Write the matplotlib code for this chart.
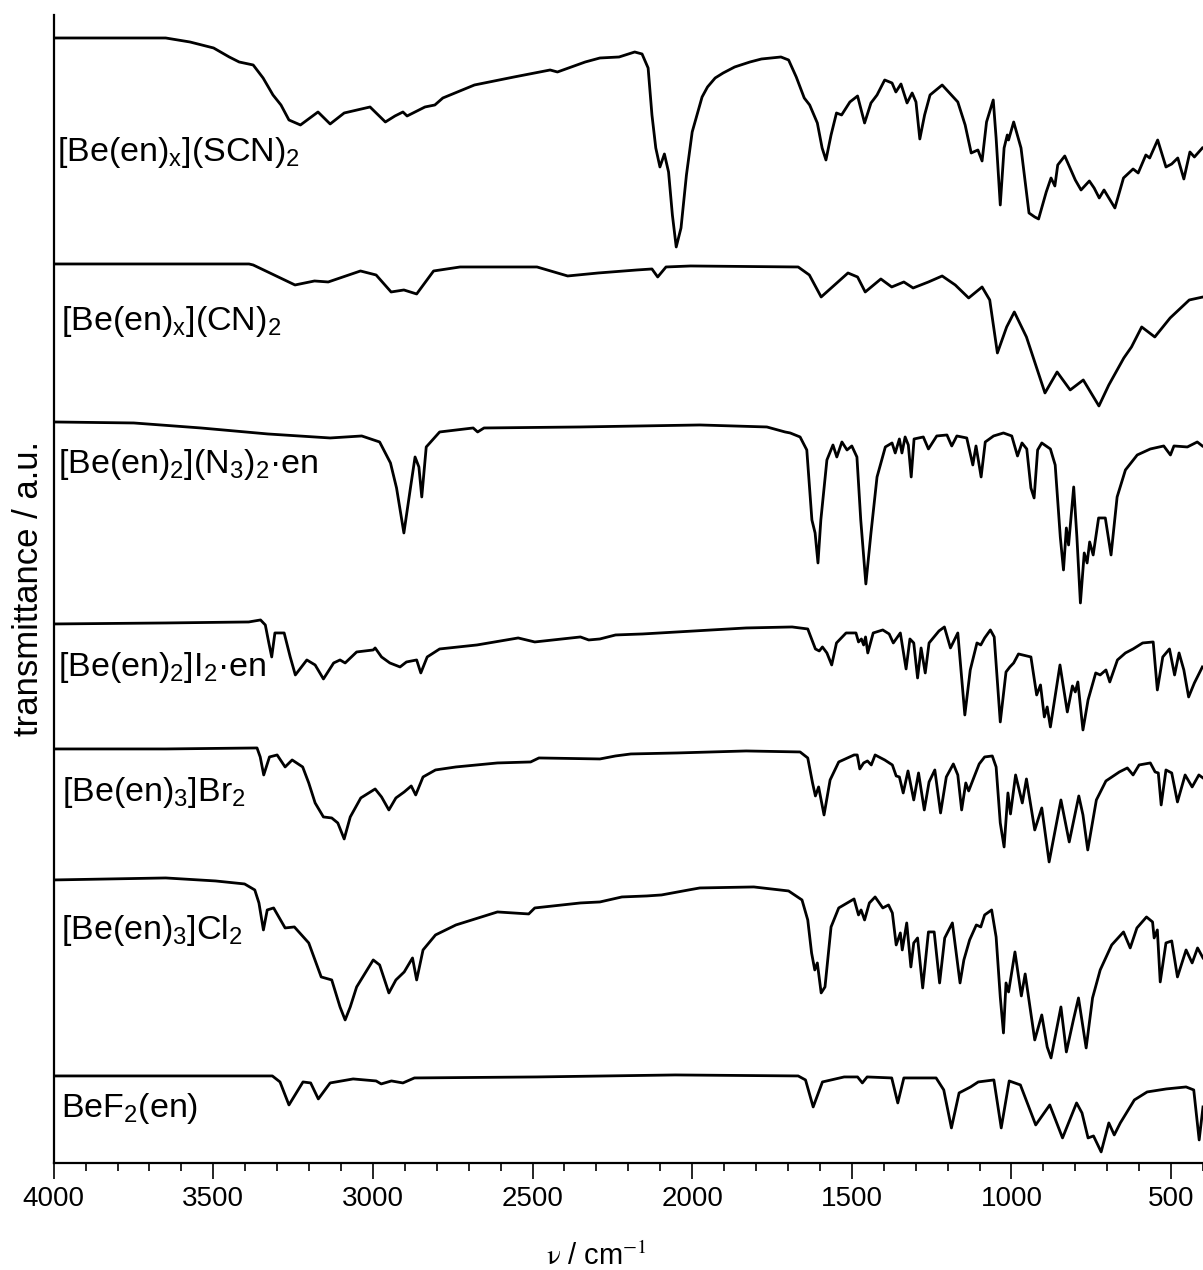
import matplotlib.pyplot as plt
from matplotlib.ticker import MultipleLocator

plt.rcParams['font.family'] = ['Liberation Sans', 'DejaVu Sans']
plt.rcParams['mathtext.fontset'] = 'custom'
plt.rcParams['mathtext.rm'] = 'Liberation Sans'
plt.rcParams['mathtext.it'] = 'Liberation Sans:italic'
plt.rcParams['mathtext.bf'] = 'Liberation Sans:bold'

# espectros IR: (numero de onda / cm-1, transmitancia a.u., ya desplazada)
scn = [(4000, 11.25), (3649, 11.25), (3573, 11.21), (3499, 11.15), (3450, 11.06), (3419, 11.01),
       (3375, 10.98), (3344, 10.85), (3313, 10.68), (3288, 10.58), (3263, 10.43), (3227, 10.38),
       (3172, 10.51), (3134, 10.39), (3090, 10.50), (3009, 10.56), (2961, 10.41), (2931, 10.47),
       (2906, 10.51), (2893, 10.47), (2837, 10.56), (2806, 10.58), (2781, 10.65), (2682, 10.78),
       (2558, 10.86), (2445, 10.93), (2422, 10.91), (2335, 11.01), (2289, 11.05), (2229, 11.06),
       (2180, 11.11), (2157, 11.09), (2138, 10.95), (2126, 10.48), (2114, 10.15), (2101, 9.96),
       (2087, 10.09), (2074, 9.91), (2062, 9.48), (2050, 9.16), (2035, 9.35), (2018, 9.88),
       (2000, 10.31), (1969, 10.66), (1952, 10.76), (1928, 10.85), (1903, 10.90), (1867, 10.96),
       (1819, 11.01), (1783, 11.04), (1722, 11.06),
       (1698, 11.03), (1674, 10.86), (1649, 10.65), (1632, 10.58), (1608, 10.40), (1593, 10.15),
       (1581, 10.03), (1565, 10.28), (1548, 10.50), (1532, 10.48), (1506, 10.61), (1482, 10.67),
       (1460, 10.40), (1440, 10.60), (1421, 10.68), (1397, 10.83), (1374, 10.80), (1362, 10.71),
       (1346, 10.79), (1327, 10.60), (1311, 10.70), (1299, 10.61), (1287, 10.24), (1272, 10.48),
       (1255, 10.68), (1217, 10.78), (1168, 10.61), (1145, 10.38), (1126, 10.10), (1105, 10.13),
       (1092, 10.02), (1078, 10.41), (1057, 10.63), (1048, 10.25), (1035, 9.58), (1023, 10.15),
       (1013, 10.28), (1009, 10.23), (993, 10.41), (970, 10.15), (945, 9.50), (927, 9.46),
       (915, 9.44), (891, 9.71), (876, 9.85), (864, 9.77), (855, 9.98), (833, 10.07), (800, 9.83),
       (782, 9.73), (756, 9.82), (741, 9.75), (725, 9.65), (710, 9.73), (676, 9.55), (649, 9.85),
       (619, 9.94), (603, 9.90), (579, 10.08), (567, 10.05), (542, 10.23), (516, 9.96), (498, 9.99),
       (479, 10.05), (460, 9.84), (441, 10.11), (427, 10.06), (402, 10.15)]

cn = [(4000, 8.99), (3388, 8.99), (3375, 8.98), (3244, 8.78), (3183, 8.82), (3140, 8.81),
      (3039, 8.92), (2990, 8.88), (2943, 8.71), (2903, 8.73), (2863, 8.69), (2810, 8.92),
      (2727, 8.96), (2486, 8.96), (2390, 8.87), (2294, 8.90), (2173, 8.93), (2126, 8.94),
      (2108, 8.86), (2082, 8.96), (2005, 8.97), (1668, 8.96), (1633, 8.88), (1596, 8.66),
      (1561, 8.76), (1512, 8.90), (1482, 8.86), (1458, 8.71), (1409, 8.84), (1375, 8.76),
      (1337, 8.81), (1308, 8.75), (1260, 8.81), (1217, 8.87), (1176, 8.78), (1134, 8.65),
      (1092, 8.76), (1068, 8.63), (1044, 8.10), (1015, 8.36), (991, 8.51), (953, 8.26),
      (924, 7.98), (895, 7.70), (857, 7.91), (816, 7.73), (775, 7.83), (726, 7.57), (695, 7.78),
      (648, 8.05), (624, 8.16), (592, 8.36), (551, 8.26), (503, 8.45), (443, 8.63), (400, 8.66)]

n3 = [(4000, 7.41), (3749, 7.40), (3539, 7.35), (3329, 7.29), (3134, 7.25), (3035, 7.27),
      (2979, 7.21), (2945, 7.00), (2926, 6.75), (2903, 6.30), (2882, 6.76), (2868, 7.06),
      (2856, 6.96), (2847, 6.66), (2833, 7.16), (2791, 7.31), (2686, 7.35), (2672, 7.31),
      (2652, 7.35), (2351, 7.36), (1976, 7.38), (1766, 7.36), (1709, 7.31), (1693, 7.30),
      (1662, 7.26), (1641, 7.13), (1625, 6.43), (1615, 6.30), (1606, 6.00), (1597, 6.43),
      (1578, 7.03), (1559, 7.18), (1547, 7.06), (1531, 7.21), (1515, 7.13), (1500, 7.17),
      (1484, 7.06), (1472, 6.43), (1456, 5.79), (1440, 6.30), (1421, 6.86), (1395, 7.16),
      (1374, 7.20), (1364, 7.10), (1351, 7.24), (1343, 7.10), (1333, 7.26), (1323, 7.18),
      (1314, 6.86), (1305, 7.24), (1276, 7.26), (1260, 7.14), (1234, 7.27), (1202, 7.28),
      (1187, 7.17), (1171, 7.27), (1140, 7.25), (1121, 6.98), (1111, 7.17), (1095, 6.86),
      (1082, 7.21), (1056, 7.27), (1025, 7.30), (999, 7.27), (981, 7.07), (967, 7.20),
      (952, 7.14), (939, 6.75), (929, 6.65), (918, 7.13), (905, 7.20), (878, 7.14), (863, 6.98),
      (847, 6.26), (837, 5.93), (828, 6.35), (821, 6.18), (805, 6.76), (795, 6.26), (784, 5.60),
      (772, 6.10), (763, 6.00), (755, 6.21), (744, 6.08), (727, 6.45), (706, 6.45), (688, 6.08),
      (669, 6.66), (643, 6.93), (606, 7.08), (565, 7.14), (523, 7.17), (502, 7.08), (491, 7.17),
      (449, 7.16), (418, 7.21), (402, 7.17)]

i2 = [(4000, 5.39), (3649, 5.40), (3389, 5.41), (3352, 5.43), (3337, 5.38), (3326, 5.20),
      (3317, 5.06), (3307, 5.30), (3278, 5.30), (3259, 5.06), (3243, 4.88), (3207, 5.03),
      (3181, 4.98), (3155, 4.84), (3123, 5.00), (3103, 5.03), (3087, 5.00), (3051, 5.11),
      (2999, 5.13), (2993, 5.15), (2973, 5.06), (2947, 5.00), (2915, 4.96), (2895, 5.01),
      (2863, 5.03), (2850, 4.90), (2830, 5.06), (2791, 5.14), (2674, 5.18), (2545, 5.25),
      (2493, 5.21), (2350, 5.26), (2324, 5.23), (2289, 5.24), (2240, 5.28), (2155, 5.29),
      (2047, 5.31), (1831, 5.35), (1687, 5.36), (1638, 5.34), (1614, 5.14), (1602, 5.12),
      (1592, 5.16), (1578, 5.10), (1563, 4.98), (1548, 5.20), (1518, 5.30), (1487, 5.30),
      (1479, 5.21), (1470, 5.24), (1463, 5.18), (1457, 5.26), (1450, 5.10), (1433, 5.30),
      (1403, 5.33), (1383, 5.29), (1370, 5.20), (1348, 5.30), (1330, 4.94), (1318, 5.24),
      (1306, 5.20), (1294, 4.85), (1283, 5.15), (1270, 4.90), (1258, 5.20), (1227, 5.32),
      (1210, 5.36), (1191, 5.15), (1168, 5.30), (1146, 4.48), (1129, 4.93), (1108, 5.20),
      (1096, 5.18), (1084, 5.25), (1066, 5.33), (1054, 5.26), (1035, 4.41), (1017, 4.91),
      (1005, 4.96), (993, 5.00), (978, 5.09), (939, 5.06), (921, 4.68), (909, 4.78), (897, 4.46),
      (888, 4.56), (878, 4.36), (848, 4.98), (825, 4.51), (809, 4.77), (800, 4.71), (792, 4.81),
      (776, 4.33), (760, 4.63), (736, 4.90), (722, 4.88), (704, 4.93), (692, 4.81), (668, 5.03),
      (643, 5.10), (619, 5.14), (589, 5.20), (556, 5.21), (543, 4.73), (526, 5.06), (505, 5.14),
      (489, 4.88), (475, 5.10), (460, 4.93), (445, 4.66), (427, 4.80), (402, 4.96)]

br = [(4000, 4.14), (3649, 4.14), (3363, 4.15), (3353, 4.06), (3342, 3.88), (3324, 4.06),
      (3300, 4.08), (3275, 3.96), (3253, 4.03), (3220, 3.96), (3201, 3.80), (3181, 3.60),
      (3155, 3.46), (3129, 3.45), (3110, 3.40), (3090, 3.24), (3071, 3.46), (3038, 3.65),
      (2993, 3.74), (2973, 3.66), (2950, 3.53), (2928, 3.65), (2902, 3.71), (2880, 3.77),
      (2866, 3.68), (2843, 3.86), (2804, 3.93), (2740, 3.96), (2610, 4.00), (2506, 4.01),
      (2480, 4.05), (2289, 4.04), (2240, 4.07), (2192, 4.09), (2047, 4.10), (1831, 4.12),
      (1662, 4.11), (1638, 4.05), (1623, 3.80), (1614, 3.67), (1604, 3.76), (1587, 3.48),
      (1568, 3.83), (1541, 4.01), (1493, 4.08), (1483, 4.08), (1475, 3.94), (1463, 4.00),
      (1451, 4.02), (1439, 3.98), (1427, 4.08), (1397, 4.03), (1373, 3.98), (1361, 3.87),
      (1351, 3.86), (1339, 3.70), (1324, 3.92), (1306, 3.63), (1291, 3.90), (1273, 3.53),
      (1258, 3.81), (1240, 3.93), (1222, 3.50), (1204, 3.86), (1182, 3.99), (1168, 3.88),
      (1156, 3.53), (1143, 3.80), (1134, 3.72), (1117, 3.86), (1101, 3.99), (1084, 4.06),
      (1060, 4.07), (1048, 3.96), (1035, 3.40), (1023, 3.16), (1011, 3.70), (1003, 3.49),
      (987, 3.88), (966, 3.60), (953, 3.84), (927, 3.33), (905, 3.55), (882, 3.01), (845, 3.63),
      (819, 3.21), (789, 3.67), (776, 3.48), (761, 3.13), (734, 3.63), (704, 3.82), (662, 3.91),
      (637, 3.95), (619, 3.88), (600, 3.98), (565, 4.00), (550, 3.91), (540, 3.90), (531, 3.58),
      (516, 3.93), (498, 3.90), (480, 3.61), (456, 3.88), (434, 3.76), (413, 3.88), (400, 3.85)]

cl = [(4000, 2.83), (3649, 2.85), (3493, 2.82), (3402, 2.79), (3370, 2.73), (3357, 2.60),
      (3343, 2.33), (3331, 2.53), (3311, 2.55), (3275, 2.35), (3246, 2.36), (3201, 2.20),
      (3162, 1.86), (3129, 1.83), (3103, 1.56), (3087, 1.43), (3071, 1.56), (3051, 1.76),
      (2999, 2.03), (2979, 1.98), (2950, 1.70), (2928, 1.83), (2902, 1.91), (2876, 2.05),
      (2863, 1.83), (2843, 2.13), (2804, 2.28), (2740, 2.38), (2610, 2.51), (2512, 2.49),
      (2493, 2.55), (2350, 2.60), (2289, 2.61), (2220, 2.66), (2142, 2.67), (2096, 2.68),
      (2011, 2.73), (1976, 2.75), (1807, 2.76), (1698, 2.72), (1656, 2.63), (1638, 2.43),
      (1626, 2.10), (1616, 1.93), (1608, 2.00), (1596, 1.70), (1584, 1.76), (1565, 2.36),
      (1541, 2.55), (1493, 2.64), (1479, 2.48), (1471, 2.53), (1460, 2.43), (1445, 2.60),
      (1427, 2.66), (1403, 2.55), (1385, 2.58), (1373, 2.50), (1361, 2.18), (1348, 2.30),
      (1342, 2.13), (1328, 2.40), (1315, 1.96), (1306, 2.20), (1294, 2.25), (1278, 1.75),
      (1260, 2.31), (1242, 2.31), (1225, 1.80), (1209, 2.25), (1185, 2.40), (1161, 1.80),
      (1149, 2.03), (1131, 2.23), (1110, 2.38), (1096, 2.36), (1084, 2.48), (1062, 2.53),
      (1048, 2.26), (1035, 1.66), (1025, 1.30), (1017, 1.80), (1009, 1.71), (989, 2.11),
      (969, 1.67), (957, 1.89), (927, 1.23), (905, 1.48), (888, 1.16), (876, 1.05), (845, 1.56),
      (828, 1.11), (806, 1.43), (790, 1.65), (766, 1.15), (746, 1.65), (722, 1.93), (686, 2.18),
      (649, 2.31), (628, 2.15), (607, 2.35), (577, 2.46), (558, 2.41), (553, 2.25), (543, 2.33),
      (534, 1.81), (516, 2.20), (498, 2.22), (480, 1.86), (468, 1.98), (453, 2.13), (434, 2.00),
      (417, 2.15), (400, 2.05)]

bef2 = [(4000, 0.87), (3315, 0.87), (3291, 0.81), (3263, 0.58), (3219, 0.81), (3195, 0.80),
        (3171, 0.64), (3134, 0.80), (3062, 0.84), (2990, 0.82), (2974, 0.79), (2942, 0.82),
        (2906, 0.80), (2870, 0.85), (2486, 0.86), (2053, 0.88), (1668, 0.87), (1645, 0.83),
        (1621, 0.56), (1592, 0.81), (1524, 0.86), (1482, 0.86), (1467, 0.80), (1452, 0.86),
        (1375, 0.85), (1356, 0.60), (1337, 0.85), (1236, 0.85), (1212, 0.73), (1188, 0.35),
        (1164, 0.70), (1128, 0.76), (1104, 0.81), (1055, 0.83), (1032, 0.35), (1007, 0.82),
        (972, 0.78), (924, 0.38), (880, 0.58), (840, 0.25), (796, 0.60), (779, 0.50), (760, 0.25),
        (743, 0.27), (719, 0.11), (695, 0.40), (678, 0.28), (659, 0.40), (615, 0.63), (575, 0.71),
        (515, 0.74), (453, 0.76), (429, 0.73), (412, 0.23), (400, 0.56)]

espectros = [scn, cn, n3, i2, br, cl, bef2]
nombres = [r'[Be(en)$_\mathrm{x}$](SCN)$_\mathrm{2}$',
           r'[Be(en)$_\mathrm{x}$](CN)$_\mathrm{2}$',
           r'[Be(en)$_\mathrm{2}$](N$_\mathrm{3}$)$_\mathrm{2}$·en',
           r'[Be(en)$_\mathrm{2}$]I$_\mathrm{2}$·en',
           r'[Be(en)$_\mathrm{3}$]Br$_\mathrm{2}$',
           r'[Be(en)$_\mathrm{3}$]Cl$_\mathrm{2}$',
           r'BeF$_\mathrm{2}$(en)']
# posicion de cada etiqueta (numero de onda, transmitancia)
etiq_x = [3990, 3977, 3987, 3987, 3974, 3977, 3977]
etiq_y = [10.10, 8.41, 6.98, 4.95, 3.70, 2.32, 0.54]

fig = plt.figure(figsize=(12.03, 12.70), dpi=100)
ax = fig.add_axes([0.0446, 0.0843, 0.9554, 0.9039])

for esp in espectros:
    wn = [p[0] for p in esp]
    t = [p[1] for p in esp]
    ax.plot(wn, t, 'k-', lw=2.0, solid_joinstyle='round')

for nom, xx, yy in zip(nombres, etiq_x, etiq_y):
    ax.text(xx, yy, nom, fontsize=24.5, ha='left', va='center')

ax.set_xlim(4000, 400)
ax.set_ylim(0, 11.48)
ax.set_xticks([4000, 3500, 3000, 2500, 2000, 1500, 1000, 500])
ax.xaxis.set_minor_locator(MultipleLocator(100))
ax.set_yticks([])
ax.spines['top'].set_visible(False)
ax.spines['right'].set_visible(False)
ax.spines['left'].set_linewidth(1.6)
ax.spines['bottom'].set_linewidth(1.6)
ax.tick_params(axis='x', which='major', length=11.5, width=1.2, labelsize=20, pad=5)
ax.tick_params(axis='x', which='minor', length=5.8, width=1.2)

fig.text(29 / 1203, 0.537, 'transmittance / a.u.', rotation=90, fontsize=25,
         ha='center', va='center')
fig.text(0.496, 0.0102, r'$\mathrm{\nu}$ / cm$^{\mathrm{-1}}$', fontsize=21,
         ha='center', va='center', math_fontfamily='stix')

fig.savefig('out.png', dpi=100)
